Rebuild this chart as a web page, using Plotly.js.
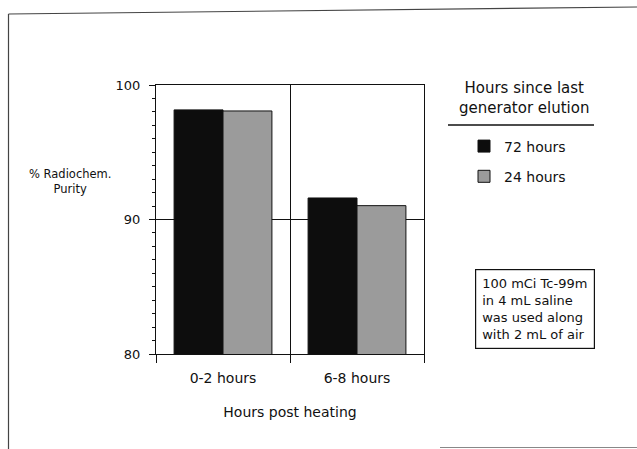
<!DOCTYPE html>
<html>
<head>
<meta charset="utf-8">
<script src="https://cdn.plot.ly/plotly-3.0.1.min.js"></script>
<style>
  html, body { margin: 0; padding: 0; background: #fff; }
  #chart { width: 637px; height: 449px; }
</style>
</head>
<body>
<div id="chart"></div>
<script>
// Radiochemical purity after heating, by time since last generator elution
const categories = ['0-2 hours', '6-8 hours'];
const seriesNames = ['72 hours', '24 hours'];
const purity72h = [98.15, 91.6];
const purity24h = [98.07, 91.03];
const yTickVals = [80, 90, 100];
const yTickText = ['80', '90', '100'];

const legendTitle = 'Hours since last<br>generator elution';
const noteText = '100 mCi Tc-99m<br>in 4 mL saline<br>was used along<br>with 2 mL of air';
const yTitle = '% Radiochem.<br>Purity';
const xTitle = 'Hours post heating';

const INK = '#111111';
const FONT = 'DejaVu Sans, sans-serif';

// Plot area in pixels (margins below), used to place annotations and shapes
const W = 637, H = 449;
const PL = 156, PR = 424, PT = 85, PB = 354;
const fx = px => (px - PL) / (PR - PL);
const fy = py => (PB - py) / (PB - PT);

const traces = [
  {
    type: 'bar', name: seriesNames[0], legendgroup: 'g72', x: categories, y: purity72h,
    marker: { color: '#0d0d0d', line: { color: INK, width: 1 } }
  },
  {
    type: 'bar', name: seriesNames[1], legendgroup: 'g24', x: categories, y: purity24h,
    marker: { color: '#9b9b9b', line: { color: INK, width: 1 } }
  }
];

const layout = {
  width: W, height: H,
  margin: { l: PL, r: W - PR, t: PT, b: H - PB, pad: 0 },
  paper_bgcolor: '#ffffff', plot_bgcolor: '#ffffff',
  font: { family: FONT, size: 13, color: INK },
  barmode: 'group', bargap: 0.27, bargroupgap: 0,
  showlegend: true,
  legend: {
    x: fx(464), y: fy(130.5), xanchor: 'left', yanchor: 'top',
    font: { family: FONT, size: 14, color: INK },
    bgcolor: 'rgba(0,0,0,0)', borderwidth: 0,
    traceorder: 'grouped', tracegroupgap: 9
  },
  xaxis: {
    type: 'category', tickson: 'boundaries',
    ticks: 'outside', ticklen: 8, tickcolor: INK, tickwidth: 1,
    showline: true, mirror: true, linecolor: INK, linewidth: 1,
    showgrid: true, gridcolor: INK, gridwidth: 1,
    ticklabelstandoff: 11,
    tickfont: { family: FONT, size: 14, color: INK },
    title: { text: xTitle, font: { family: FONT, size: 14, color: INK }, standoff: 22 },
    automargin: false, fixedrange: true
  },
  yaxis: {
    range: [80, 100], tickvals: yTickVals, ticktext: yTickText,
    ticks: 'outside', ticklen: 6, tickcolor: INK, tickwidth: 1,
    minor: { dtick: 1, ticks: 'outside', ticklen: 3, tickcolor: INK, showgrid: false },
    showline: true, mirror: true, linecolor: INK, linewidth: 1,
    showgrid: true, gridcolor: INK, gridwidth: 1, zeroline: false,
    ticklabelstandoff: 6,
    tickfont: { family: FONT, size: 13, color: INK },
    automargin: false, fixedrange: true
  },
  annotations: [
    {
      text: yTitle, xref: 'paper', yref: 'paper', x: fx(70), y: fy(181),
      xanchor: 'center', yanchor: 'middle', showarrow: false, align: 'center',
      font: { family: FONT, size: 11.5, color: INK }
    },
    {
      text: legendTitle, xref: 'paper', yref: 'paper', x: fx(524), y: fy(98),
      xanchor: 'center', yanchor: 'middle', showarrow: false, align: 'center',
      font: { family: FONT, size: 15, color: INK }
    },
    {
      text: noteText, xref: 'paper', yref: 'paper', x: fx(534.5), y: fy(309),
      xanchor: 'center', yanchor: 'middle', showarrow: false, align: 'left',
      bordercolor: INK, borderwidth: 1.2, borderpad: 6, bgcolor: '#ffffff',
      font: { family: FONT, size: 13, color: INK }
    }
  ],
  shapes: [
    // rule under the legend heading
    { type: 'line', xref: 'paper', yref: 'paper', x0: fx(448), x1: fx(594), y0: fy(125), y1: fy(125),
      line: { color: INK, width: 1.5 } },
    // outer frame around the figure
    { type: 'line', xref: 'paper', yref: 'paper', x0: fx(8.5), x1: fx(8.5), y0: fy(14), y1: fy(449),
      line: { color: '#444', width: 1.2 } },
    { type: 'line', xref: 'paper', yref: 'paper', x0: fx(8.5), x1: fx(637), y0: fy(14), y1: fy(7),
      line: { color: '#444', width: 1.2 } },
    { type: 'line', xref: 'paper', yref: 'paper', x0: fx(440), x1: fx(637), y0: fy(447.5), y1: fy(447.5),
      line: { color: '#888', width: 1.2 } }
  ]
};

Plotly.newPlot('chart', traces, layout, { staticPlot: true, displayModeBar: false });
</script>
</body>
</html>
